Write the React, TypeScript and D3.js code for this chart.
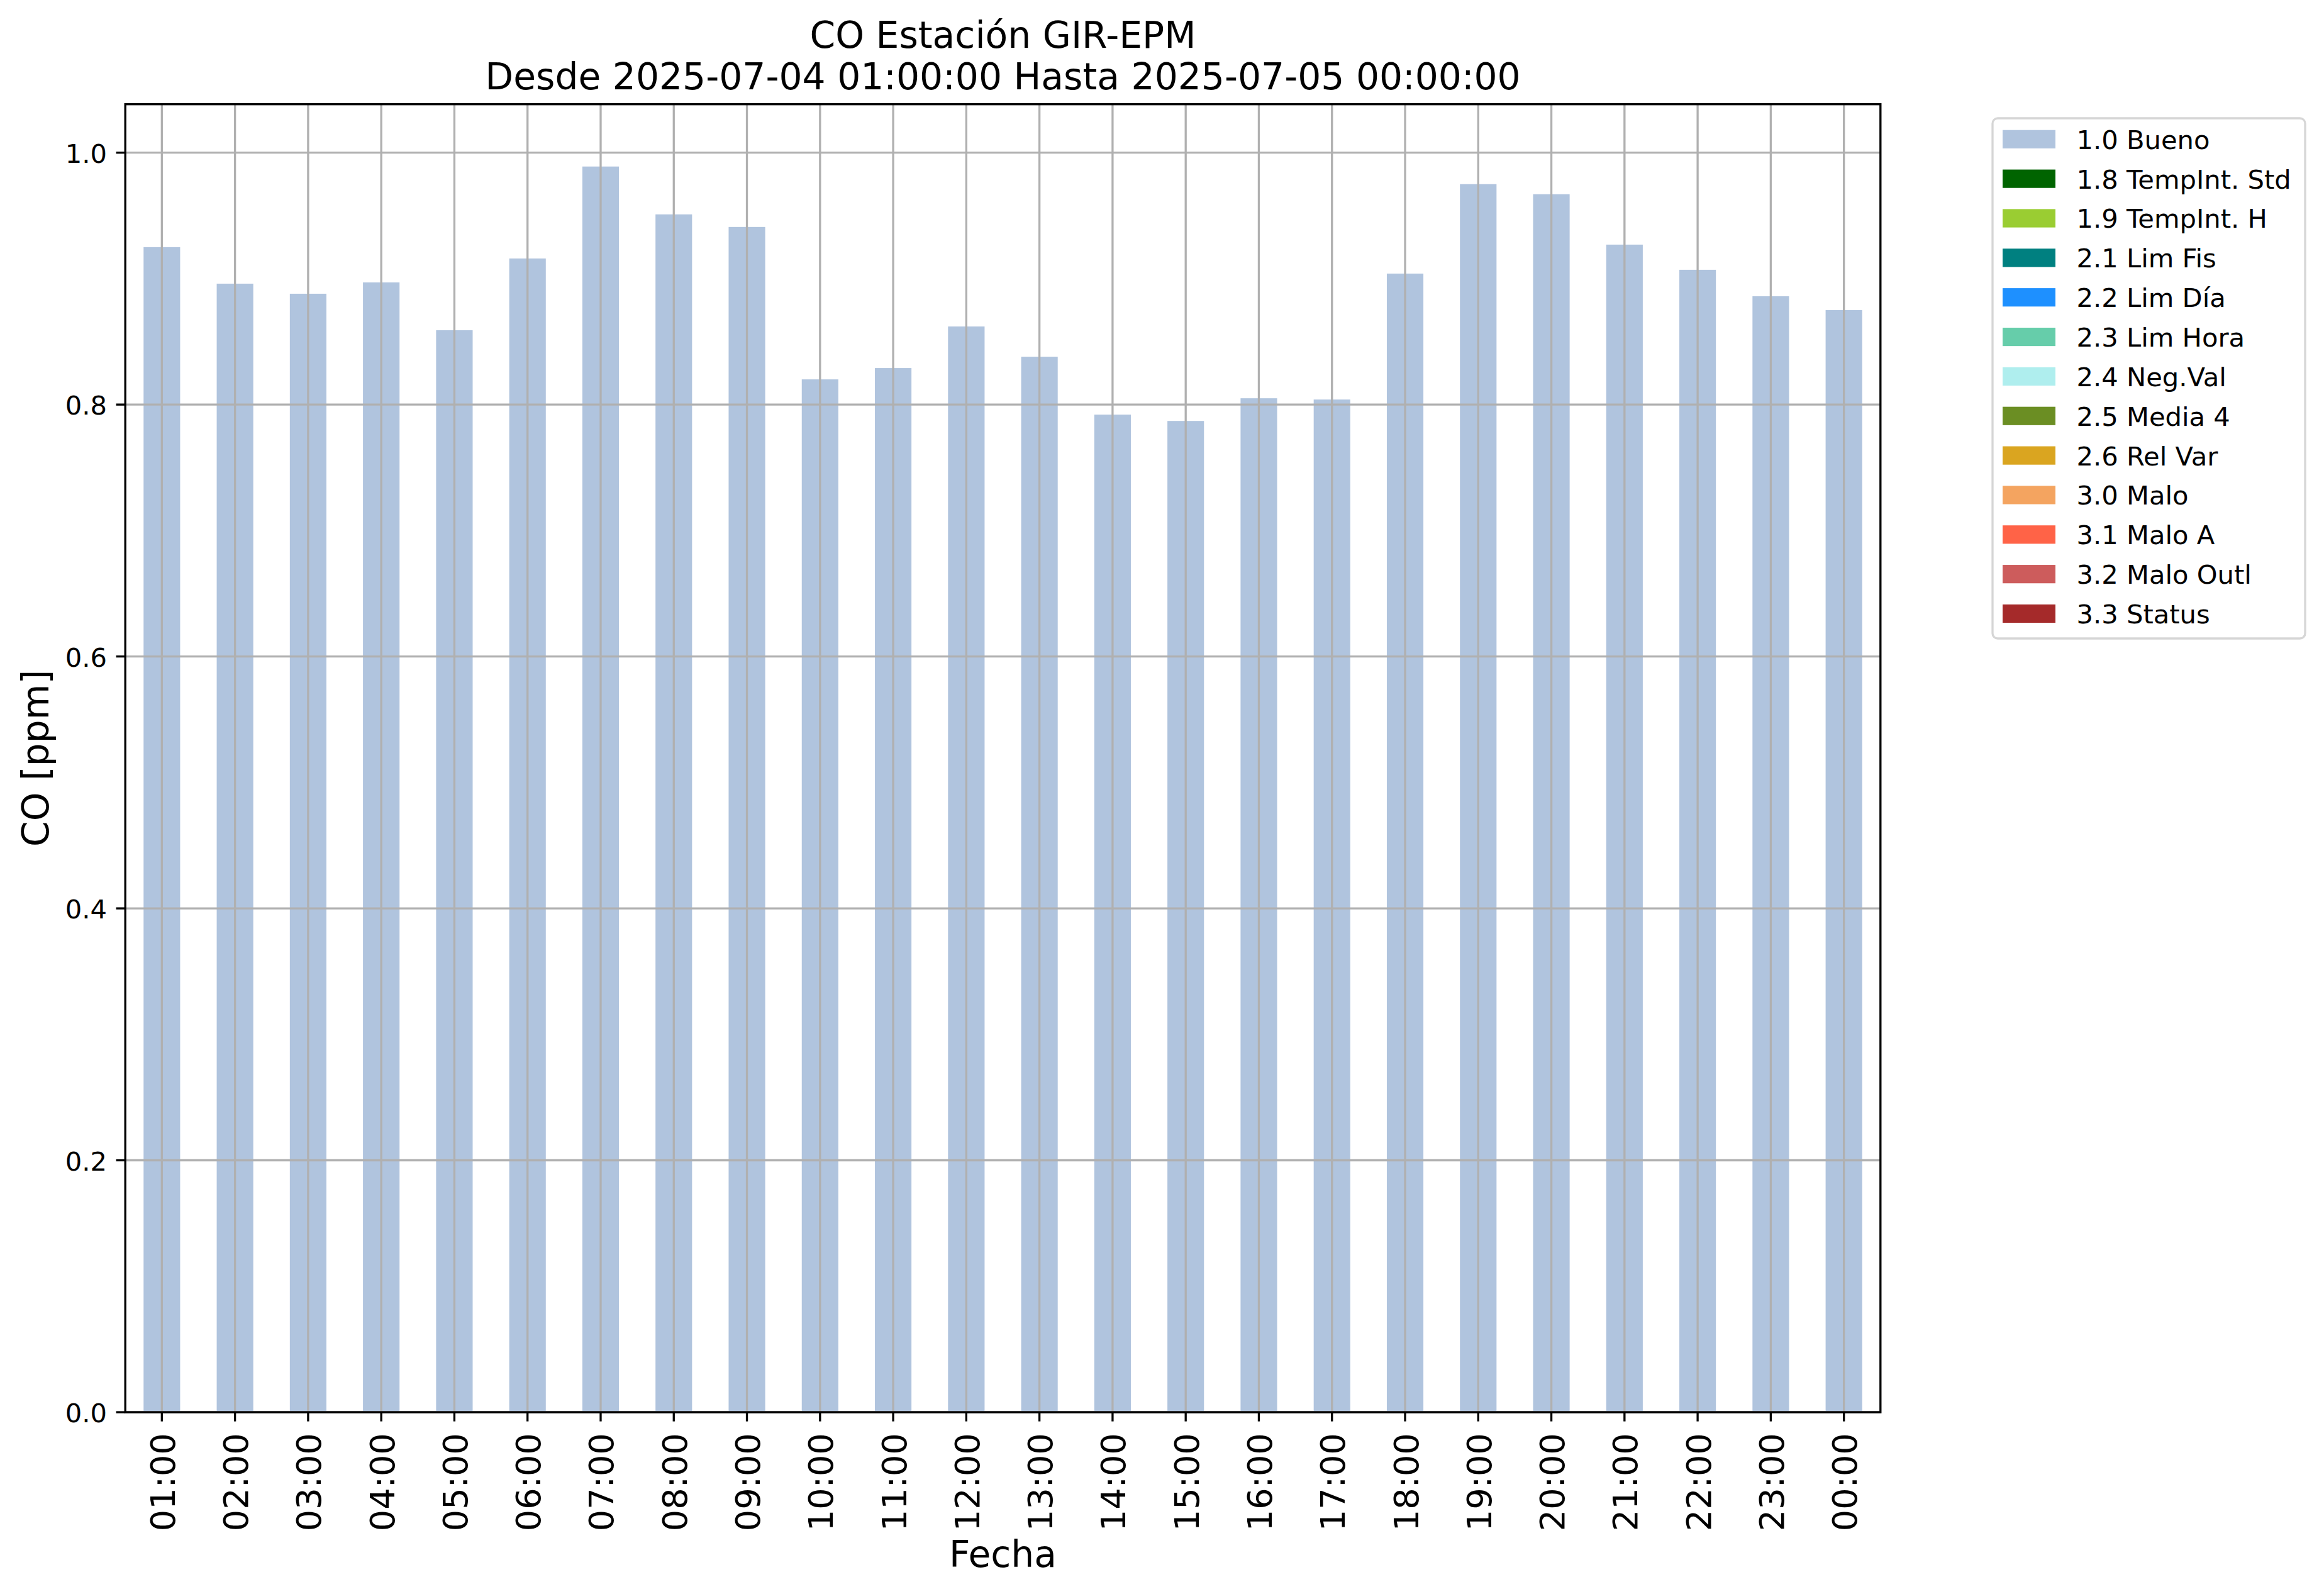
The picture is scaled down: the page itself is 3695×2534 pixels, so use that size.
import React from "react";
import * as d3 from "d3";

const hours = ["01:00","02:00","03:00","04:00","05:00","06:00","07:00","08:00","09:00","10:00","11:00","12:00","13:00","14:00","15:00","16:00","17:00","18:00","19:00","20:00","21:00","22:00","23:00","00:00"];
const coValues = [0.925,0.896,0.888,0.897,0.859,0.916,0.989,0.951,0.941,0.820,0.829,0.862,0.838,0.792,0.787,0.805,0.804,0.904,0.975,0.967,0.927,0.907,0.886,0.875];
const yTicks = [0.0, 0.2, 0.4, 0.6, 0.8, 1.0];
const legendLabels = ["1.0 Bueno","1.8 TempInt. Std","1.9 TempInt. H","2.1 Lim Fis","2.2 Lim Día","2.3 Lim Hora","2.4 Neg.Val","2.5 Media 4","2.6 Rel Var","3.0 Malo","3.1 Malo A","3.2 Malo Outl","3.3 Status"];
const legendColors = ["#B0C4DE","#006400","#9ACD32","#008080","#1E90FF","#66CDAA","#AFEEEE","#6B8E23","#DAA520","#F4A460","#FF6347","#CD5C5C","#A52A2A"];
const titleLines = ["CO Estación GIR-EPM","Desde 2025-07-04 01:00:00 Hasta 2025-07-05 00:00:00"];

const W = 3695, H = 2534;
const L = 199.2, R = 2989.8, T = 165.7, B = 2245;
const FONT = "DejaVu Sans, sans-serif";
const LW = 3.33;

export default function App() {
  const x = d3.scaleLinear().domain([-0.5, hours.length - 0.5]).range([L, R]);
  const yMax = (d3.max(coValues) as number) * 1.05;
  const y = d3.scaleLinear().domain([0, yMax]).range([B, T]);
  const barW = 0.5;
  const cx = (L + R) / 2;
  const cy = (T + B) / 2;

  const legX = 3168, legY = 188, legW = 497, legH = 827;
  const rowY0 = 221.3, rowStep = 62.85;

  return (
    <svg width={W} height={H} style={{ position: "absolute", left: 0, top: 0, background: "#fff" }} fontFamily={FONT}>
      <rect x={0} y={0} width={W} height={H} fill="#fff" />
      {/* bars */}
      {coValues.map((v, i) => (
        <rect key={"b" + i} x={x(i - barW / 2)} y={y(v)} width={x(i + barW / 2) - x(i - barW / 2)} height={y(0) - y(v)} fill="#B0C4DE" />
      ))}
      {/* grid */}
      {hours.map((_, i) => (
        <line key={"gx" + i} x1={x(i)} x2={x(i)} y1={T} y2={B} stroke="#b0b0b0" strokeWidth={LW} />
      ))}
      {yTicks.map((t, i) => (
        <line key={"gy" + i} x1={L} x2={R} y1={y(t)} y2={y(t)} stroke="#b0b0b0" strokeWidth={LW} />
      ))}
      {/* spines */}
      <rect x={L} y={T} width={R - L} height={B - T} fill="none" stroke="#000" strokeWidth={LW} />
      {/* y ticks */}
      {yTicks.map((t, i) => (
        <g key={"yt" + i}>
          <line x1={L - 14.6} x2={L} y1={y(t)} y2={y(t)} stroke="#000" strokeWidth={LW} />
          <text x={170} y={y(t) + 16.2} fontSize={41.67} textAnchor="end" fill="#000">{t.toFixed(1)}</text>
        </g>
      ))}
      {/* x ticks */}
      {hours.map((h, i) => (
        <g key={"xt" + i}>
          <line x1={x(i)} x2={x(i)} y1={B} y2={B + 14.6} stroke="#000" strokeWidth={LW} />
          <text transform={`translate(${x(i) + 20.5},${2278}) rotate(-90)`} fontSize={54.2} textAnchor="end" fill="#000">{h}</text>
        </g>
      ))}
      {/* axis labels */}
      <text x={cx} y={2491} fontSize={58.3} textAnchor="middle" fill="#000">Fecha</text>
      <text transform={`translate(76.5,${cy}) rotate(-90)`} fontSize={58.3} textAnchor="middle" fill="#000">CO [ppm]</text>
      {/* title */}
      <text x={cx} y={76} fontSize={58.3} textAnchor="middle" fill="#000">{titleLines[0]}</text>
      <text x={cx} y={141.7} fontSize={58.3} textAnchor="middle" fill="#000">{titleLines[1]}</text>
      {/* legend */}
      <rect x={legX} y={legY} width={legW} height={legH} rx={8.3} ry={8.3} fill="#fff" stroke="#d6d6d6" strokeWidth={LW} />
      {legendLabels.map((lab, i) => {
        const cyRow = rowY0 + i * rowStep;
        return (
          <g key={"lg" + i}>
            <rect x={3184} y={cyRow - 14.6} width={84} height={29.2} fill={legendColors[i]} />
            <text x={3301.5} y={cyRow + 15.4} fontSize={41.67} fill="#000">{lab}</text>
          </g>
        );
      })}
    </svg>
  );
}
